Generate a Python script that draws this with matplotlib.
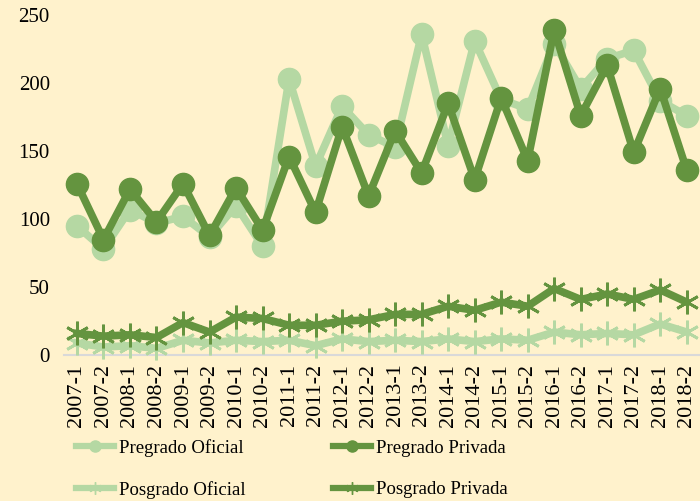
import matplotlib.pyplot as plt
from matplotlib.lines import Line2D

periods = ["2007-1", "2007-2", "2008-1", "2008-2", "2009-1", "2009-2", "2010-1", "2010-2",
           "2011-1", "2011-2", "2012-1", "2012-2", "2013-1", "2013-2", "2014-1", "2014-2",
           "2015-1", "2015-2", "2016-1", "2016-2", "2017-1", "2017-2", "2018-1", "2018-2"]
pregrado_oficial = [95, 78, 107, 97, 102, 87, 110, 80, 203, 139, 183, 162,
                    153, 236, 154, 231, 188, 181, 229, 196, 218, 224, 187, 176]
pregrado_privada = [126, 85, 122, 98, 126, 88, 123, 92, 146, 105, 168, 117,
                    165, 134, 185, 129, 189, 143, 239, 176, 213, 149, 196, 136]
posgrado_oficial = [9, 6, 7, 5, 11, 9, 11, 10, 11, 7, 12, 10,
                    11, 10, 12, 10, 12, 11, 17, 15, 16, 15, 23, 17]
posgrado_privada = [16, 14, 15, 13, 24, 17, 28, 27, 22, 22, 25, 26,
                    30, 30, 36, 33, 39, 36, 49, 41, 45, 41, 48, 39]

light = "#B5D8A3"
dark = "#64943F"
bg = "#FFF2CC"

plt.rcParams['font.family'] = ['Liberation Serif', 'DejaVu Serif']

fig = plt.figure(figsize=(7, 5.01), dpi=100, facecolor=bg)
ax = fig.add_axes([0.091, 0.291, 0.909, 0.679])
ax.set_facecolor(bg)

x = range(len(periods))
ax.plot(x, pregrado_oficial, color=light, lw=5.5, marker='o', ms=16, clip_on=False, zorder=3)
ax.plot(x, pregrado_privada, color=dark, lw=5.5, marker='o', ms=16, clip_on=False, zorder=4)
ax.plot(x, posgrado_oficial, color=light, lw=5.5, marker=(6, 2, 0), ms=17, mew=2, clip_on=False, zorder=3)
ax.plot(x, posgrado_privada, color=dark, lw=5.5, marker=(6, 2, 0), ms=17, mew=2, clip_on=False, zorder=4)

ax.set_xlim(-0.5, len(periods) - 0.5)
ax.set_ylim(0, 250)
ax.set_yticks([0, 50, 100, 150, 200, 250])
ax.set_xticks(list(x))
ax.set_xticklabels(periods, rotation=90)
ax.tick_params(axis='y', length=0, labelsize=15, pad=10)
ax.tick_params(axis='x', length=0, labelsize=16, pad=6)
for s in ['top', 'right', 'left']:
    ax.spines[s].set_visible(False)
ax.spines['bottom'].set_color('#D9D9D9')
ax.spines['bottom'].set_linewidth(1.5)

handles = [
    Line2D([], [], color=light, lw=4.5, marker='o', ms=8),
    Line2D([], [], color=light, lw=4.5, marker=(6, 2, 0), ms=9, mew=1),
    Line2D([], [], color=dark, lw=4.5, marker='o', ms=8),
    Line2D([], [], color=dark, lw=4.5, marker=(6, 2, 0), ms=9, mew=1),
]
labels = ["Pregrado Oficial", "Posgrado Oficial", "Pregrado Privada", "Posgrado Privada"]
fig.legend(handles, labels, ncol=2, loc='center left', bbox_to_anchor=(0.085, 0.064),
           frameon=False, fontsize=13.5, handlelength=2.0, handletextpad=0.25,
           columnspacing=4.7, labelspacing=1.3)

fig.savefig("out.png", dpi=100, facecolor=bg)
